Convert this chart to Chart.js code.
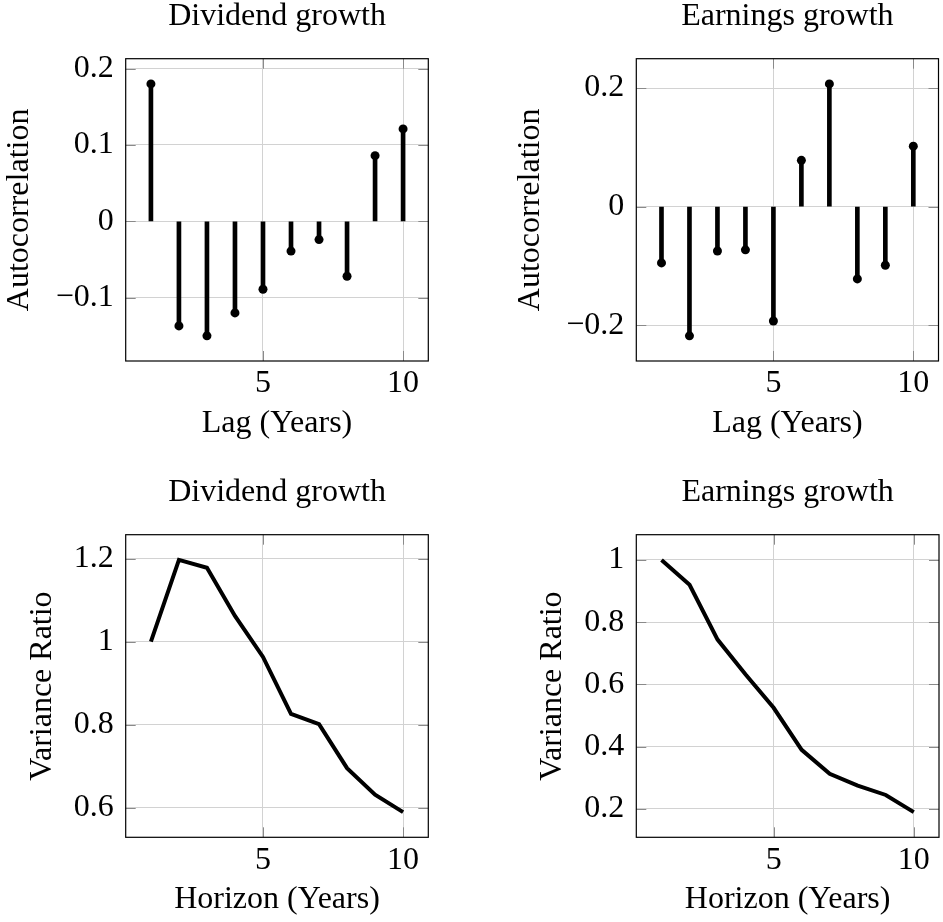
<!DOCTYPE html>
<html>
<head>
<meta charset="utf-8">
<script src="https://cdn.jsdelivr.net/npm/chart.js@4.4.1/dist/chart.umd.min.js"></script>
<style>
  body { margin: 0; background: #fff; }
  #wrap { position: relative; width: 943px; height: 922px; overflow: hidden; }
  .cell { position: absolute; }
</style>
</head>
<body>
<div id="wrap">
  <div class="cell" style="left:0;top:0"><canvas id="acfDiv" width="471" height="461"></canvas></div>
  <div class="cell" style="left:472px;top:0"><canvas id="acfEarn" width="471" height="461"></canvas></div>
  <div class="cell" style="left:0;top:476px"><canvas id="vrDiv" width="471" height="446"></canvas></div>
  <div class="cell" style="left:472px;top:476px"><canvas id="vrEarn" width="471" height="446"></canvas></div>
</div>
<script>
// lags / horizons in years
const lags = [1, 2, 3, 4, 5, 6, 7, 8, 9, 10];
const horizons = [1, 2, 3, 4, 5, 6, 7, 8, 9, 10];

// autocorrelations
const divAcf = [0.18, -0.137, -0.15, -0.12, -0.089, -0.039, -0.024, -0.072, 0.086, 0.121];
const earnAcf = [-0.095, -0.218, -0.075, -0.073, -0.193, 0.078, 0.207, -0.122, -0.099, 0.102];

// variance ratios
const divVr = [1.0, 1.197, 1.178, 1.062, 0.963, 0.826, 0.801, 0.695, 0.631, 0.589];
const earnVr = [1.0, 0.92, 0.744, 0.632, 0.525, 0.39, 0.313, 0.275, 0.245, 0.19];

// tick labels
const xTicks = [5, 10];
const divAcfTicks = [-0.1, 0, 0.1, 0.2];
const earnAcfTicks = [-0.2, 0, 0.2];
const divVrTicks = [0.6, 0.8, 1, 1.2];
const earnVrTicks = [0.2, 0.4, 0.6, 0.8, 1];

const FONT = "'Liberation Serif', 'Times New Roman', serif";
const GRID = '#d2d2d2';

// pgfplots style: 10% padding around the data range
function padRange(vals) {
	const lo = Math.min(...vals), hi = Math.max(...vals);
	const d = (hi - lo) * 0.1;
	return [lo - d, hi + d];
}

function fmt(v) {
	return v < 0 ? '\u2212' + Math.abs(v) : String(v);
}

// black frame + inward tick marks
const frame = {
	id: 'frame',
	afterDraw(chart) {
		const { ctx, chartArea: a, scales } = chart;
		ctx.save();
		ctx.strokeStyle = '#8a8a8a';
		ctx.lineWidth = 1;
		ctx.beginPath();
		scales.x.ticks.forEach(t => {
			const px = Math.round(scales.x.getPixelForValue(t.value)) + 0.5;
			ctx.moveTo(px, a.bottom); ctx.lineTo(px, a.bottom - 10);
			ctx.moveTo(px, a.top); ctx.lineTo(px, a.top + 10);
		});
		scales.y.ticks.forEach(t => {
			const py = Math.round(scales.y.getPixelForValue(t.value)) + 0.5;
			ctx.moveTo(a.left, py); ctx.lineTo(a.left + 10, py);
			ctx.moveTo(a.right, py); ctx.lineTo(a.right - 10, py);
		});
		ctx.stroke();
		ctx.strokeStyle = '#000';
		ctx.lineWidth = 1.2;
		ctx.strokeRect(a.left, a.top, a.width, a.height);
		ctx.restore();
	}
};

function makeChart(id, opt) {
	const pts = opt.xs.map((x, i) => ({ x: x, y: opt.ys[i] }));
	const [ymin, ymax] = padRange(opt.ys);
	let datasets;
	if (opt.stem) {
		datasets = [
			{ type: 'scatter', data: pts, pointRadius: 4.5, pointBackgroundColor: '#000', pointBorderWidth: 0 },
			{ type: 'bar', data: pts, backgroundColor: '#000', barThickness: 4, borderWidth: 0 }
		];
	} else {
		datasets = [
			{ type: 'line', data: pts, borderColor: '#000', borderWidth: 4, pointRadius: 0, tension: 0, fill: false }
		];
	}

	return new Chart(document.getElementById(id), {
		type: opt.stem ? 'bar' : 'line',
		data: { datasets: datasets },
		plugins: [frame],
		options: {
			responsive: false,
			animation: false,
			layout: { padding: { left: 0, right: opt.padRight, top: 0, bottom: 0 } },
			plugins: {
				legend: { display: false },
				tooltip: { enabled: false },
				title: {
					display: true,
					fullSize: false,
					align: 'center',
					text: opt.title,
					color: '#000',
					font: { family: FONT, size: 32, weight: 'normal', lineHeight: 1 },
					padding: { top: 1, bottom: 25.7 }
				}
			},
			scales: {
				x: {
					type: 'linear',
					min: 0.1,
					max: 10.9,
					offset: false,
					afterBuildTicks: s => { s.ticks = xTicks.map(v => ({ value: v })); },
					afterFit: s => { s.height = opt.xAxisH; },
					grid: { color: GRID, drawTicks: false, offset: false },
					border: { display: false },
					ticks: {
						padding: 7,
						color: '#000',
						font: { family: FONT, size: 32, lineHeight: 1 },
						maxRotation: 0,
						callback: v => fmt(v)
					},
					title: {
						display: true,
						text: opt.xLabel,
						color: '#000',
						font: { family: FONT, size: 32, lineHeight: 1 },
						padding: { top: 0, bottom: opt.xTitlePad }
					}
				},
				y: {
					min: ymin,
					max: ymax,
					afterBuildTicks: s => { s.ticks = opt.yTicks.map(v => ({ value: v })); },
					afterFit: s => { s.width = opt.yAxisW; },
					grid: { color: GRID, drawTicks: false },
					border: { display: false },
					ticks: {
						padding: 12,
						color: '#000',
						font: { family: FONT, size: 32, lineHeight: 1 },
						callback: v => fmt(v)
					},
					title: {
						display: true,
						text: opt.yLabel,
						color: '#000',
						font: { family: FONT, size: 32, lineHeight: 1 },
						padding: { top: opt.yTitlePad, bottom: 0 }
					}
				}
			}
		}
	});
}

makeChart('acfDiv', {
	stem: true, xs: lags, ys: divAcf, yTicks: divAcfTicks,
	title: 'Dividend growth', xLabel: 'Lag (Years)', yLabel: 'Autocorrelation',
	yAxisW: 125.7, padRight: 42.7, xAxisH: 100, xTitlePad: 21, yTitlePad: 3.2
});

makeChart('acfEarn', {
	stem: true, xs: lags, ys: earnAcf, yTicks: earnAcfTicks,
	title: 'Earnings growth', xLabel: 'Lag (Years)', yLabel: 'Autocorrelation',
	yAxisW: 164.3, padRight: 4, xAxisH: 100, xTitlePad: 21, yTitlePad: 42.9
});

makeChart('vrDiv', {
	stem: false, xs: horizons, ys: divVr, yTicks: divVrTicks,
	title: 'Dividend growth', xLabel: 'Horizon (Years)', yLabel: 'Variance Ratio',
	yAxisW: 125.7, padRight: 42.7, xAxisH: 84.7, xTitlePad: 6, yTitlePad: 26.5
});

makeChart('vrEarn', {
	stem: false, xs: horizons, ys: earnVr, yTicks: earnVrTicks,
	title: 'Earnings growth', xLabel: 'Horizon (Years)', yLabel: 'Variance Ratio',
	yAxisW: 164.3, padRight: 4, xAxisH: 84.7, xTitlePad: 6, yTitlePad: 64.5
});
</script>
</body>
</html>
